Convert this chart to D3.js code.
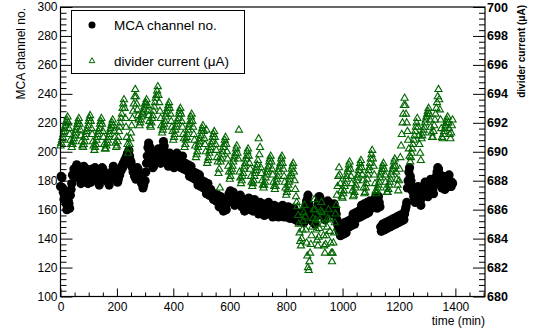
<!DOCTYPE html>
<html>
<head>
<meta charset="utf-8">
<script src="https://cdn.jsdelivr.net/npm/d3@7"></script>
<style>
  body { margin: 0; background: #fff; }
  text { font-family: "Liberation Sans", Arial, Helvetica, sans-serif; }
</style>
</head>
<body>
<svg id="chart" width="539" height="331"></svg>
<script>
// sampling of both series, minutes between points (one row = 40 min)
const timeStep = 2.5;

// MCA channel no. (left axis), starting at t = 0
const mcaChannel = [
  176, 183, 182, 175, 172, 167, 168, 172, 164, 160, 162, 166, 164, 161, 170, 174,
  178, 184, 184, 188, 187, 184, 188, 191, 186, 182, 183, 187, 181, 178, 184, 187,
  187, 190, 188, 184, 185, 188, 182, 178, 180, 183, 182, 179, 185, 188, 187, 184,
  186, 189, 183, 180, 181, 184, 180, 177, 183, 186, 186, 189, 188, 185, 186, 182,
  183, 180, 181, 184, 180, 177, 182, 185, 185, 182, 187, 190, 188, 185, 185, 181,
  182, 179, 181, 184, 184, 188, 187, 190, 189, 192, 191, 194, 193, 196, 196, 199,
  198, 201, 197, 194, 193, 190, 189, 186, 186, 183, 184, 181, 186, 189, 188, 185,
  185, 182, 181, 178, 178, 175, 177, 180, 180, 186, 192, 197, 203, 206, 200, 203,
  196, 199, 192, 189, 190, 193, 193, 196, 197, 200, 199, 202, 196, 193, 192, 195,
  198, 203, 207, 204, 200, 197, 195, 198, 193, 190, 196, 199, 197, 194, 194, 197,
  192, 189, 194, 197, 196, 199, 193, 190, 191, 194, 192, 189, 194, 197, 191, 188,
  189, 192, 190, 187, 188, 191, 186, 183, 187, 190, 185, 182, 183, 186, 184, 181,
  182, 185, 180, 177, 181, 184, 179, 176, 177, 180, 178, 175, 176, 179, 174, 171,
  175, 178, 173, 170, 171, 174, 172, 169, 170, 167, 168, 171, 169, 166, 167, 170,
  165, 162, 166, 169, 164, 161, 162, 159, 161, 164, 163, 160, 165, 168, 168, 171,
  170, 173, 171, 168, 169, 172, 166, 163, 164, 167, 166, 169, 168, 165, 167, 170,
  165, 162, 163, 166, 162, 159, 164, 167, 166, 163, 165, 168, 163, 160, 161, 164,
  162, 159, 164, 167, 163, 160, 161, 164, 160, 157, 162, 165, 163, 160, 161, 164,
  159, 156, 158, 161, 160, 157, 162, 165, 161, 158, 159, 162, 158, 155, 160, 163,
  161, 158, 159, 162, 158, 155, 157, 160, 159, 156, 160, 163, 158, 155, 157, 160,
  158, 155, 159, 162, 157, 154, 156, 159, 157, 154, 158, 161, 156, 153, 155, 158,
  155, 152, 154, 157, 156, 153, 155, 158, 154, 151, 156, 159, 163, 166, 167, 170,
  164, 161, 158, 155, 155, 152, 154, 157, 153, 150, 155, 158, 160, 163, 166, 169,
  168, 165, 165, 162, 159, 156, 156, 153, 158, 161, 163, 166, 165, 162, 161, 158,
  157, 160, 160, 163, 164, 161, 160, 157, 153, 150, 148, 145, 145, 142, 144, 147,
  146, 143, 148, 151, 147, 144, 149, 152, 151, 148, 150, 153, 152, 149, 154, 157,
  153, 150, 155, 158, 157, 154, 156, 159, 158, 155, 160, 163, 159, 156, 161, 164,
  160, 157, 162, 165, 161, 158, 163, 166, 164, 161, 163, 166, 165, 162, 166, 169,
  164, 161, 166, 169, 165, 162, 148, 145, 147, 150, 149, 146, 148, 151, 150, 147,
  149, 152, 151, 148, 150, 153, 152, 149, 151, 154, 153, 150, 152, 155, 154, 151,
  153, 156, 155, 152, 154, 157, 156, 153, 157, 160, 162, 165, 175, 180, 186, 189,
  183, 180, 176, 173, 172, 169, 168, 165, 170, 173, 173, 176, 169, 166, 166, 163,
  168, 171, 172, 175, 176, 179, 174, 171, 172, 169, 175, 178, 178, 181, 176, 173,
  174, 171, 177, 180, 180, 183, 186, 189, 188, 185, 182, 179, 178, 175, 180, 183,
  177, 174, 175, 178, 178, 181, 181, 184, 179, 176, 176, 179, 178
];

// divider current in uA (right axis), same times
const dividerCurrent = [
  690.4, 690.6, 690.8, 691.0, 691.2, 691.4, 691.6, 691.8, 692.0, 692.2, 692.4, 692.0, 691.6, 691.2, 690.8, 690.5,
  690.3, 690.5, 690.7, 690.9, 691.1, 691.3, 691.5, 691.7, 691.9, 692.1, 692.3, 691.9, 691.5, 691.1, 690.7, 690.4,
  690.3, 690.5, 690.7, 691.0, 691.2, 691.4, 691.6, 691.8, 692.1, 692.3, 692.5, 692.1, 691.6, 691.2, 690.7, 690.4,
  690.1, 690.3, 690.5, 690.8, 691.0, 691.2, 691.4, 691.6, 691.9, 692.1, 692.3, 691.9, 691.4, 691.0, 690.5, 690.2,
  690.2, 690.4, 690.6, 690.8, 691.0, 691.2, 691.4, 691.6, 691.8, 692.0, 692.2, 691.8, 691.4, 691.0, 690.6, 690.3,
  690.4, 690.7, 691.0, 691.4, 691.7, 692.0, 692.3, 692.6, 693.0, 693.3, 693.6, 693.0, 692.3, 691.7, 691.0, 690.5,
  689.9, 690.2, 690.5, 690.9, 691.3, 691.8, 692.3, 692.8, 693.3, 693.8, 694.3, 693.8, 693.3, 692.9, 692.5, 692.2,
  691.8, 692.0, 692.2, 692.4, 692.6, 692.7, 692.9, 693.1, 693.3, 693.4, 693.6, 693.2, 692.8, 692.5, 692.1, 691.8,
  691.7, 692.0, 692.3, 692.5, 692.8, 693.1, 693.4, 693.7, 693.9, 694.2, 694.5, 693.9, 693.4, 692.8, 692.3, 691.8,
  691.3, 691.5, 691.7, 691.9, 692.1, 692.4, 692.6, 692.8, 693.0, 693.2, 693.4, 693.0, 692.6, 692.1, 691.7, 691.4,
  690.8, 691.0, 691.2, 691.5, 691.7, 691.9, 692.1, 692.3, 692.6, 692.8, 693.0, 692.6, 692.1, 691.7, 691.2, 690.9,
  690.3, 690.5, 690.8, 691.0, 691.2, 691.5, 691.7, 691.9, 692.1, 692.4, 692.6, 692.1, 691.7, 691.2, 690.8, 690.4,
  689.6, 689.8, 690.0, 690.3, 690.5, 690.7, 690.9, 691.1, 691.4, 691.6, 691.8, 691.4, 690.9, 690.5, 690.0, 691.5,
  689.2, 689.4, 689.6, 689.9, 690.1, 690.3, 690.5, 690.7, 691.0, 691.2, 691.4, 691.0, 690.5, 690.1, 689.6, 689.3,
  688.5, 688.8, 687.5, 689.3, 689.5, 689.8, 690.0, 690.3, 690.5, 690.8, 691.0, 690.5, 690.0, 689.5, 689.0, 688.6,
  688.1, 688.3, 688.6, 688.8, 689.0, 689.3, 689.5, 689.7, 689.9, 690.2, 690.4, 689.9, 689.5, 691.5, 688.6, 688.2,
  687.8, 688.0, 688.3, 688.5, 688.8, 689.0, 689.2, 689.5, 689.7, 690.0, 690.2, 689.7, 689.2, 688.8, 688.3, 687.9,
  687.6, 687.8, 688.0, 688.3, 688.5, 688.7, 688.9, 689.1, 689.4, 690.9, 689.8, 690.3, 688.9, 688.5, 688.0, 687.7,
  687.5, 687.7, 687.9, 688.2, 688.4, 688.6, 688.8, 689.0, 689.3, 689.5, 689.7, 689.3, 688.8, 688.4, 687.9, 687.6,
  687.4, 687.6, 687.9, 688.1, 688.3, 688.6, 688.8, 689.0, 689.2, 689.5, 689.7, 689.2, 688.8, 688.3, 687.9, 687.5,
  687.0, 687.2, 687.4, 687.7, 687.9, 688.1, 688.3, 688.5, 688.8, 689.0, 689.2, 688.6, 688.0, 687.4, 686.9, 686.5,
  686.2, 685.6, 685.0, 684.4, 683.8, 683.5, 684.0, 684.6, 685.2, 685.8, 686.3, 685.5, 684.6, 683.7, 682.8, 682.0,
  681.8, 682.4, 683.0, 683.6, 684.2, 684.8, 685.4, 686.0, 686.7, 686.0, 685.3, 684.6, 683.9, 683.5, 684.1, 684.7,
  685.3, 685.9, 686.5, 685.8, 685.0, 684.2, 683.5, 683.0, 683.6, 684.2, 684.8, 685.4, 686.0, 685.3, 684.5, 683.7,
  683.0, 682.4, 683.0, 683.7, 684.4, 685.1, 685.7, 686.3, 687.0, 687.6, 688.3, 688.9, 688.4, 687.8, 687.3, 686.9,
  686.8, 687.1, 687.3, 687.6, 687.8, 688.1, 688.3, 688.6, 688.8, 689.1, 689.3, 688.8, 688.3, 687.8, 687.3, 686.9,
  687.0, 687.2, 687.5, 687.7, 688.0, 688.2, 688.4, 688.7, 688.9, 689.2, 689.4, 688.9, 688.4, 688.0, 687.5, 687.1,
  687.2, 687.5, 687.8, 688.1, 688.4, 688.7, 688.9, 689.2, 689.5, 689.8, 690.1, 689.5, 689.0, 688.4, 687.8, 687.3,
  687.1, 687.3, 687.5, 687.7, 687.9, 688.2, 688.4, 688.6, 688.8, 689.0, 689.2, 688.8, 688.4, 687.9, 687.5, 687.2,
  687.2, 687.4, 687.7, 687.9, 688.1, 688.4, 688.6, 688.8, 689.0, 689.3, 689.5, 689.0, 688.6, 688.1, 687.7, 687.3,
  688.0, 688.8, 689.6, 690.4, 691.2, 692.0, 692.6, 693.2, 693.7, 693.2, 692.6, 692.0, 691.4, 690.8, 690.2, 689.7,
  689.3, 689.6, 689.9, 690.2, 690.5, 690.8, 691.1, 691.4, 691.7, 692.0, 692.3, 691.7, 691.1, 690.5, 689.9, 689.4,
  690.9, 691.1, 691.3, 691.5, 691.7, 692.0, 692.2, 692.4, 692.6, 692.8, 693.0, 692.6, 692.2, 691.7, 691.3, 691.0,
  691.0, 691.4, 691.8, 692.2, 692.6, 693.0, 693.4, 693.8, 694.3, 693.6, 692.9, 692.2, 691.6, 691.0, 690.9, 691.2,
  691.4, 691.6, 691.8, 692.0, 692.2, 692.4, 692.0, 691.6, 691.2, 690.9, 691.3, 691.8, 692.2
];

const xTicks = [0, 200, 400, 600, 800, 1000, 1200, 1400];
const leftTicks = [100, 120, 140, 160, 180, 200, 220, 240, 260, 280, 300];
const rightTicks = [680, 682, 684, 686, 688, 690, 692, 694, 696, 698, 700];

const legendLabels = ["MCA channel no.", "divider current (\u03bcA)"];

const green = "#006600";
const frame = {left: 60.5, right: 485, top: 7, bottom: 296.5};

const svg = d3.select("#chart");

const x = d3.scaleLinear().domain([0, 1505]).range([frame.left, frame.right]);
const yL = d3.scaleLinear().domain([100, 300]).range([frame.bottom, frame.top]);
const yR = d3.scaleLinear().domain([680, 700]).range([frame.bottom, frame.top]);

// minor ticks first, then major ones on top
const xMinor = d3.range(0, 1501, 50).filter(v => v % 200 !== 0);
const lMinor = d3.range(100, 301, 4).filter(v => v % 20 !== 0);
const rMinor = d3.range(0, 51).map(i => 680 + i * 0.4).filter((v, i) => i % 5 !== 0);

function minor(g) { g.select(".domain").remove(); g.selectAll("text").remove(); }

svg.append("g").attr("transform", `translate(0,${frame.bottom})`)
  .call(d3.axisBottom(x).tickValues(xMinor).tickSize(-4).tickFormat(""))
  .call(minor);
svg.append("g").attr("transform", `translate(${frame.left},0)`)
  .call(d3.axisLeft(yL).tickValues(lMinor).tickSize(-6).tickFormat(""))
  .call(minor);
svg.append("g").attr("transform", `translate(${frame.right},0)`)
  .call(d3.axisRight(yR).tickValues(rMinor).tickSize(-6).tickFormat(""))
  .call(minor);

const fmt = d3.format("d");
const xAxis = svg.append("g").attr("transform", `translate(0,${frame.bottom})`)
  .call(d3.axisBottom(x).tickValues(xTicks).tickSize(-8).tickPadding(6).tickFormat(fmt));
const lAxis = svg.append("g").attr("transform", `translate(${frame.left},0)`)
  .call(d3.axisLeft(yL).tickValues(leftTicks).tickSize(-12).tickPadding(3).tickFormat(fmt));
const rAxis = svg.append("g").attr("transform", `translate(${frame.right},0)`)
  .call(d3.axisRight(yR).tickValues(rightTicks).tickSize(-12).tickPadding(2).tickFormat(fmt));

[xAxis, lAxis, rAxis].forEach(g => {
  g.select(".domain").remove();
  g.selectAll("text").attr("fill", "#000").attr("font-family", null);
});
xAxis.selectAll("text").attr("font-size", 12);
lAxis.selectAll("text").attr("font-size", 12);
rAxis.selectAll("text").attr("font-size", 12.5).attr("font-weight", "bold");
svg.selectAll(".tick line").attr("stroke", "#000");

// data
svg.append("g").selectAll("circle")
  .data(mcaChannel)
  .join("circle")
  .attr("cx", (d, i) => x(i * timeStep))
  .attr("cy", d => yL(d))
  .attr("r", 4.6)
  .attr("fill", "#000");

const tri = d3.symbol().type(d3.symbolTriangle).size(22);
svg.append("g").selectAll("path")
  .data(dividerCurrent)
  .join("path")
  .attr("transform", (d, i) => `translate(${x(i * timeStep)},${yR(d)})`)
  .attr("d", tri)
  .attr("fill", "none")
  .attr("stroke", green)
  .attr("stroke-width", 1.1);

// frame
svg.append("rect")
  .attr("x", frame.left).attr("y", frame.top)
  .attr("width", frame.right - frame.left).attr("height", frame.bottom - frame.top)
  .attr("fill", "none").attr("stroke", "#000").attr("stroke-width", 1.2);

// axis titles
svg.append("text")
  .attr("x", frame.right).attr("y", 325)
  .attr("text-anchor", "end").attr("font-size", 12)
  .text("time (min)");
svg.append("text")
  .attr("transform", "translate(25,8) rotate(-90)")
  .attr("text-anchor", "end").attr("font-size", 12)
  .text("MCA channel no.");
svg.append("text")
  .attr("transform", "translate(525,5) rotate(-90)")
  .attr("text-anchor", "end").attr("font-size", 10).attr("font-weight", "bold")
  .text("divider current (\u03bcA)");

// legend
const leg = svg.append("g");
leg.append("rect")
  .attr("x", 71.5).attr("y", 10.5).attr("width", 173).attr("height", 63)
  .attr("fill", "#fff").attr("stroke", "#000");
leg.append("circle").attr("cx", 92).attr("cy", 25).attr("r", 3.5).attr("fill", "#000");
leg.append("path").attr("transform", "translate(92,61)")
  .attr("d", d3.symbol().type(d3.symbolTriangle).size(14))
  .attr("fill", "none").attr("stroke", green);
leg.selectAll("text.lab")
  .data(legendLabels)
  .join("text")
  .attr("class", "lab")
  .attr("x", 114)
  .attr("y", (d, i) => 30 + i * 36)
  .attr("font-size", 13.5)
  .text(d => d);
</script>
</body>
</html>
